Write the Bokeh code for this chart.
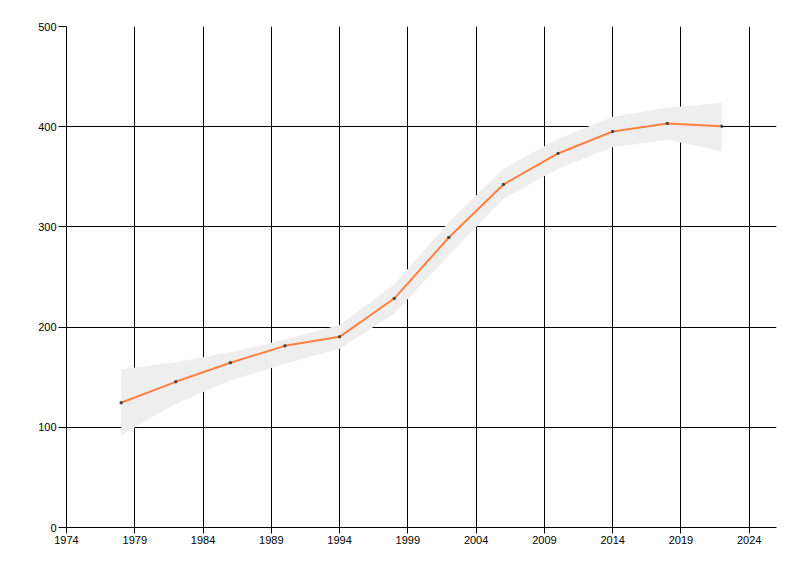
from bokeh.plotting import figure
from bokeh.models import ColumnDataSource, FixedTicker, Range1d
from bokeh.embed import file_html
from bokeh.resources import INLINE

years = [1978, 1982, 1986, 1990, 1994, 1998, 2002, 2006, 2010, 2014, 2018, 2022]
values = [124.5, 145.4, 164.4, 181.3, 190.3, 228.5, 289.4, 342.3, 373.3, 395.2, 403.2, 400.5]
band_upper = [158, 165, 175, 187.6, 202, 242.5, 304.7, 358, 388, 410, 418.8, 424]
band_lower = [92, 123.5, 146.7, 163.4, 178.3, 213.6, 271.5, 328, 358, 379.5, 387, 375.5]
x_ticks = [1974, 1979, 1984, 1989, 1994, 1999, 2004, 2009, 2014, 2019, 2024]
y_ticks = [0, 100, 200, 300, 400, 500]

src = ColumnDataSource(dict(x=years, y=values, lo=band_lower, hi=band_upper))

p = figure(output_backend="svg", toolbar_location=None,
           frame_width=710, frame_height=501,
           min_border_left=66, min_border_top=26, min_border_right=8, min_border_bottom=30,
           x_range=Range1d(1974, 2026), y_range=Range1d(0, 500))
p.outline_line_color = None
p.background_fill_color = "white"
p.border_fill_color = "white"

p.varea(x="x", y1="lo", y2="hi", source=src, fill_color="#EEEEEE")
p.line(x="x", y="y", source=src, line_color="#FF8040", line_width=2)
p.scatter(x="x", y="y", source=src, marker="square", size=2, fill_color="#444444", line_color="#444444")

p.xaxis.ticker = FixedTicker(ticks=x_ticks)
p.yaxis.ticker = FixedTicker(ticks=y_ticks)
for g in (p.xgrid, p.ygrid):
    g.grid_line_color = "black"
    g.grid_line_width = 1
    g.grid_line_alpha = 1.0
p.xgrid.ticker = FixedTicker(ticks=x_ticks)
p.ygrid.ticker = FixedTicker(ticks=y_ticks)

for ax in (p.xaxis[0], p.yaxis[0]):
    ax.axis_line_color = "black"
    ax.major_tick_line_color = "black"
    ax.minor_tick_line_color = None
    ax.major_tick_in = 0
    ax.major_label_text_font = "Liberation Sans"
    ax.major_label_text_font_size = "11px"
    ax.major_label_text_color = "black"
    ax.major_label_standoff = 2
p.xaxis.major_tick_out = 6
p.yaxis.major_tick_out = 8

open("out.html", "w").write(file_html(p, INLINE))
